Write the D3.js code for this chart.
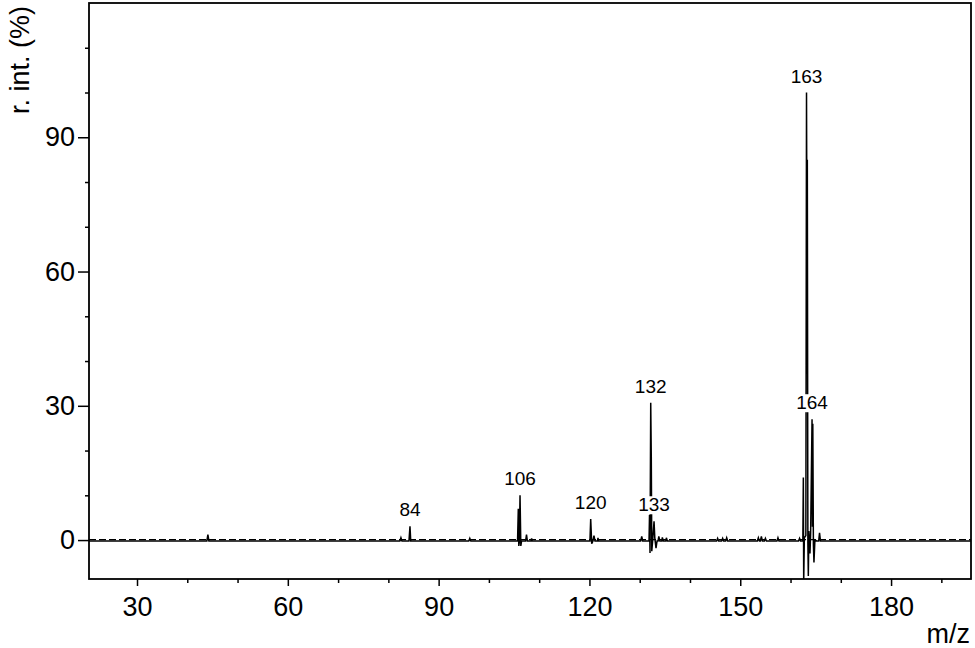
<!DOCTYPE html>
<html>
<head>
<meta charset="utf-8">
<script src="https://cdn.jsdelivr.net/npm/d3@7"></script>
<style>
  html, body { margin: 0; padding: 0; background: #fff; }
  svg { display: block; font-family: "Liberation Sans", Arial, sans-serif; }
</style>
</head>
<body>
<svg id="chart" width="975" height="648"></svg>
<script>
// ---- data (profile spectrum) ----
const mzValues = [
  20.45, 30.0, 43.9, 44.1, 44.3, 60.0, 82.3, 82.5, 82.7, 84.1, 84.3, 84.45,
  96.0, 96.2, 96.4, 105.7, 105.85, 105.95, 106.05, 106.19, 106.35, 106.5, 107.3, 107.48, 107.65,
  108.4, 108.5, 108.6, 120.1, 120.25, 120.45, 120.7, 120.9, 121.1, 121.6, 121.7, 121.8,
  130.2, 130.4, 130.6, 131.85, 131.95, 132.05, 132.19, 132.3, 132.4, 132.6, 132.85, 133.0,
  133.24, 133.45, 133.65, 133.8, 134.0, 134.4, 134.5, 134.7, 135.2, 135.3, 135.5,
  145.3, 145.5, 145.7, 146.3, 146.5, 146.7, 147.1, 147.3, 147.5, 153.4, 153.6, 153.8,
  154.0, 154.2, 154.4, 154.8, 155.0, 155.2, 157.3, 157.5, 157.7, 161.6, 161.8, 162.0,
  162.45, 162.55, 162.62, 162.75, 163.05, 163.18, 163.28, 163.34, 163.45, 163.54, 163.65,
  163.87, 164.0, 164.28, 164.36, 164.43, 164.55, 164.66, 164.85, 165.2, 165.6, 165.77, 165.95,
  180.0, 195.9
];
const intensities = [
  -0.2, -0.2, -0.2, 1.2, -0.2, -0.2, -0.2, 0.5, -0.2, -0.2, 3.1, -0.2,
  -0.2, 0.4, -0.2, -0.2, 7.0, -1.3, -0.5, 10.0, -1.3, -0.2, -0.2, 1.2, -0.2,
  -0.2, 0.4, -0.2, -0.2, 4.7, -0.8, -0.2, 1.0, -0.2, -0.2, 0.5, -0.2,
  -0.2, 0.8, -0.2, -0.2, 5.6, -2.9, 30.7, 18.6, -2.5, 0.2, 4.2, 0.5,
  -1.8, -0.2, -0.2, 0.8, -0.2, -0.2, 0.6, -0.2, -0.2, 0.5, -0.2,
  -0.2, 0.4, -0.2, -0.2, 0.4, -0.2, -0.2, 0.5, -0.2, -0.2, 0.5, -0.2,
  -0.2, 0.8, -0.2, -0.2, 0.4, -0.2, -0.2, 0.5, -0.2, -0.2, 0.4, -0.2,
  -0.2, 14.0, -9.5, 0.5, 1.0, 100.0, 60.0, 85.0, -0.5, -8.0, 2.0,
  -3.0, 1.5, 27.0, 3.0, 26.0, -1.0, -5.0, 0.0, -0.2, -0.2, 1.6, -0.2,
  -0.2, -0.2
];
const peakLabels = ["84", "106", "120", "132", "133", "163", "164"];
const peakLabelMz = [84.3, 106.19, 120.25, 132.19, 132.85, 163.18, 164.28];
const peakLabelInt = [3.1, 10.0, 4.7, 30.7, 4.2, 100.0, 27.0];
const xMajorTicks = [30, 60, 90, 120, 150, 180];
const xMinorTicks = [40, 50, 70, 80, 100, 110, 130, 140, 160, 170, 190];
const yMajorTicks = [0, 30, 60, 90];
const yMinorTicks = [10, 20, 40, 50, 70, 80, 100, 110];
const zeroLevel = 0.1;

// ---- layout ----
const W = 975, H = 648;
const m = { left: 89, top: 3, right: 4, bottom: 69 };
const svg = d3.select("#chart");
const x = d3.scaleLinear().domain([20.45, 195.9]).range([m.left, W - m.right]);
const y = d3.scaleLinear().domain([-8.7, 120]).range([H - m.bottom, m.top]);

svg.append("defs").append("clipPath").attr("id", "plotclip")
  .append("rect")
  .attr("x", m.left).attr("y", m.top)
  .attr("width", W - m.left - m.right).attr("height", H - m.top - m.bottom);

// zero dashed line
svg.append("line")
  .attr("x1", x.range()[0]).attr("x2", x.range()[1])
  .attr("y1", y(zeroLevel)).attr("y2", y(zeroLevel))
  .attr("stroke", "#000").attr("stroke-width", 1.4)
  .attr("stroke-dasharray", "7,3");

// spectrum
const pts = mzValues.map((d, i) => [d, intensities[i]]);
svg.append("path")
  .datum(pts)
  .attr("clip-path", "url(#plotclip)")
  .attr("fill", "none").attr("stroke", "#000").attr("stroke-width", 1.5)
  .attr("stroke-linejoin", "miter")
  .attr("d", d3.line().x(d => x(d[0])).y(d => y(d[1])));

// peak labels with white background
peakLabels.forEach((lab, i) => {
  const g = svg.append("g");
  const t = g.append("text")
    .attr("x", x(peakLabelMz[i])).attr("y", y(peakLabelInt[i]) - 10)
    .attr("text-anchor", "middle").attr("font-size", 19).attr("fill", "#000")
    .text(lab);
  const bb = t.node().getBBox();
  g.insert("rect", "text")
    .attr("x", bb.x).attr("y", bb.y + 2).attr("width", bb.width).attr("height", bb.height - 3)
    .attr("fill", "#fff");
});

// axes
const xAxisG = svg.append("g").attr("transform", `translate(0,${H - m.bottom})`);
xAxisG.call(d3.axisBottom(x).tickValues(xMajorTicks).tickSize(7).tickPadding(11).tickFormat(d3.format("d")));
const xMinorG = svg.append("g").attr("transform", `translate(0,${H - m.bottom})`);
xMinorG.call(d3.axisBottom(x).tickValues(xMinorTicks).tickSize(4).tickFormat(""));

const yAxisG = svg.append("g").attr("transform", `translate(${m.left},0)`);
yAxisG.call(d3.axisLeft(y).tickValues(yMajorTicks).tickSize(11).tickPadding(3).tickFormat(d3.format("d")));
const yMinorG = svg.append("g").attr("transform", `translate(${m.left},0)`);
yMinorG.call(d3.axisLeft(y).tickValues(yMinorTicks).tickSize(4).tickFormat(""));

[xAxisG, xMinorG, yAxisG, yMinorG].forEach(g => {
  g.select(".domain").remove();
  g.selectAll("line").attr("stroke", "#000").attr("stroke-width", 1.5);
  g.selectAll("text").attr("font-size", 27).attr("fill", "#000")
    .attr("font-family", "'Liberation Sans', Arial, sans-serif");
});

// frame
svg.append("rect")
  .attr("x", m.left).attr("y", m.top)
  .attr("width", W - m.left - m.right).attr("height", H - m.top - m.bottom)
  .attr("fill", "none").attr("stroke", "#000").attr("stroke-width", 1.8);

// axis titles
svg.append("text")
  .attr("transform", `translate(29,60) rotate(-90)`)
  .attr("text-anchor", "middle").attr("font-size", 27).attr("fill", "#000")
  .text("r. int. (%)");
svg.append("text")
  .attr("x", 970).attr("y", 643)
  .attr("text-anchor", "end").attr("font-size", 27).attr("fill", "#000")
  .text("m/z");
</script>
</body>
</html>
